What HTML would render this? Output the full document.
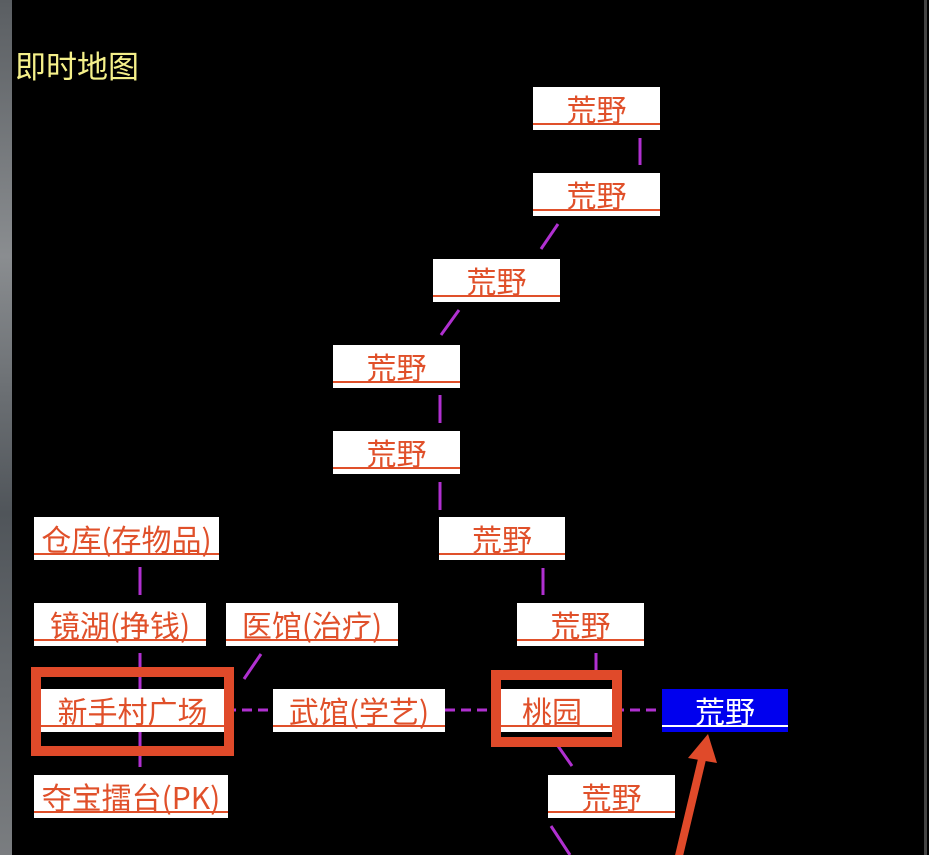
<!DOCTYPE html>
<html><head><meta charset="utf-8"><style>
body{margin:0;width:929px;height:855px;background:#000;position:relative;overflow:hidden;font-family:"Noto Sans CJK SC",sans-serif}
.b{position:absolute;height:43px;background:#fff;color:#e0502a;font-size:30px;line-height:42px;text-align:center;box-sizing:border-box;white-space:nowrap;overflow:hidden}
.b:after{content:"";position:absolute;left:0;right:0;bottom:5px;height:2px;background:#e0502a}
.blue{background:#0000ee;color:#fff}.blue:after{background:#fff}
.f{position:absolute;border:10px solid #e04a2a;box-sizing:border-box}
</style></head><body>
<div style="position:absolute;left:0;top:0;width:12px;height:855px;background:linear-gradient(#5a5e62,#8a8d90 30%,#50555a 60%,#7a7d80)"></div>
<div style="position:absolute;left:924px;top:0;width:3px;height:855px;background:#444"></div>
<div style="position:absolute;left:15px;top:44px;color:#f5f08a;font-size:31px;line-height:42px">即时地图</div>
<svg width="929" height="855" style="position:absolute;left:0;top:0">
<g stroke="#b030d0" stroke-width="3" fill="none">
<line x1="640" y1="138" x2="640" y2="165"/>
<line x1="558" y1="224" x2="541" y2="249"/>
<line x1="459" y1="310" x2="441" y2="335"/>
<line x1="440" y1="395" x2="440" y2="423"/>
<line x1="440" y1="482" x2="440" y2="510"/>
<line x1="543" y1="568" x2="543" y2="595"/>
<line x1="596" y1="653" x2="596" y2="680"/>
<line x1="140" y1="567" x2="140" y2="595"/>
<line x1="140" y1="653" x2="140" y2="767"/>
<line x1="261" y1="654" x2="244" y2="679"/>
<line x1="226" y1="710" x2="273" y2="710" stroke-dasharray="10,6"/>
<line x1="445" y1="710" x2="500" y2="710" stroke-dasharray="10,6"/>
<line x1="614" y1="710" x2="662" y2="710" stroke-dasharray="10,6"/>
<line x1="558" y1="746" x2="572" y2="766"/>
<line x1="551" y1="826" x2="570" y2="855"/>
</g>
</svg>
<div class="b" style="left:533px;top:87px;width:127px">荒野</div>
<div class="b" style="left:533px;top:173px;width:127px">荒野</div>
<div class="b" style="left:433px;top:259px;width:127px">荒野</div>
<div class="b" style="left:333px;top:345px;width:127px">荒野</div>
<div class="b" style="left:333px;top:431px;width:127px">荒野</div>
<div class="b" style="left:439px;top:517px;width:126px">荒野</div>
<div class="b" style="left:517px;top:603px;width:127px">荒野</div>
<div class="b" style="left:492px;top:689px;width:120px">桃园</div>
<div class="b blue" style="left:662px;top:689px;width:126px">荒野</div>
<div class="b" style="left:548px;top:775px;width:127px">荒野</div>
<div class="b" style="left:34px;top:517px;width:185px">仓库(存物品)</div>
<div class="b" style="left:34px;top:603px;width:172px">镜湖(挣钱)</div>
<div class="b" style="left:226px;top:603px;width:172px">医馆(治疗)</div>
<div class="b" style="left:41px;top:689px;width:183px">新手村广场</div>
<div class="b" style="left:273px;top:689px;width:172px">武馆(学艺)</div>
<div class="b" style="left:34px;top:775px;width:194px">夺宝擂台(PK)</div>
<div class="f" style="left:31px;top:667px;width:203px;height:89px"></div>
<div class="f" style="left:491px;top:670px;width:131px;height:77px"></div>
<svg width="929" height="855" style="position:absolute;left:0;top:0">
<line x1="678" y1="860" x2="703" y2="755" stroke="#e04a2a" stroke-width="8"/>
<polygon points="708,734 688,758 717,763" fill="#e04a2a"/>
</svg>
</body></html>
